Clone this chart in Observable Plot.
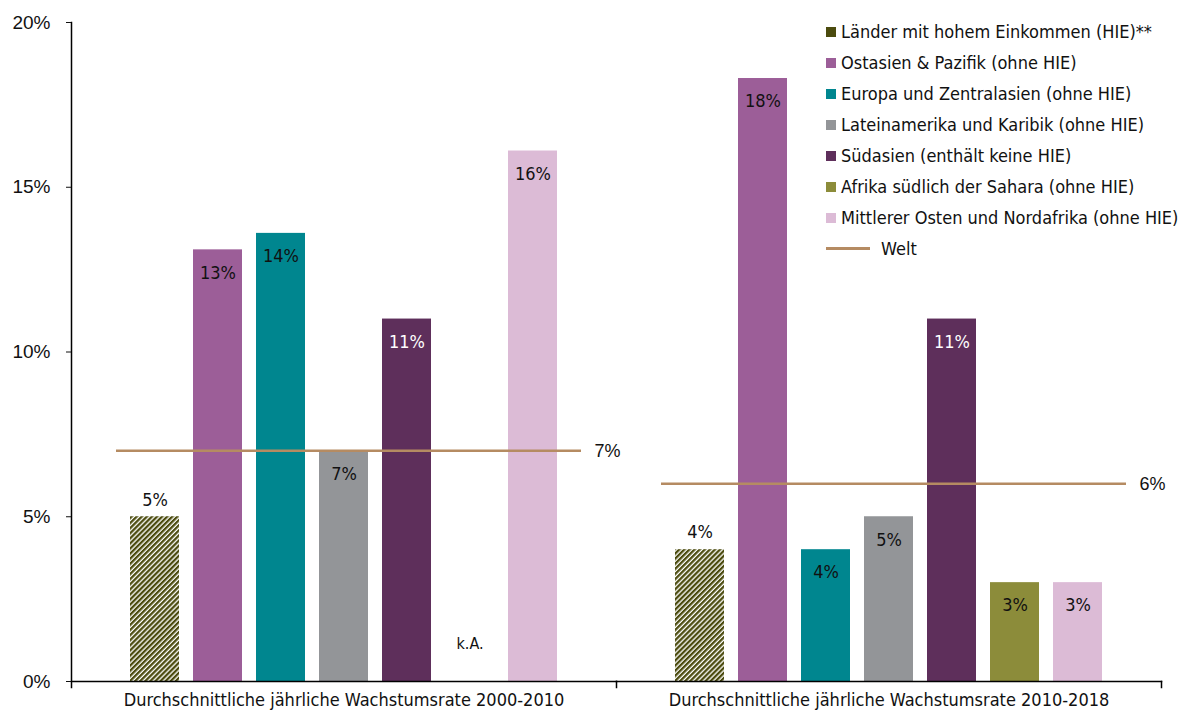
<!DOCTYPE html>
<html><head><meta charset="utf-8">
<script src="https://cdn.jsdelivr.net/npm/d3@7"></script>
<script src="https://cdn.jsdelivr.net/npm/@observablehq/plot@0.6"></script>
<style>
body{margin:0;background:#fff;}
#wrap{position:relative;width:1180px;height:717px;}
#legend{position:absolute;left:826px;top:16px;font-family:"Liberation Sans Narrow","DejaVu Sans Condensed",sans-serif;font-size:18px;color:#111;}
.row{display:flex;align-items:center;height:31px;white-space:nowrap;}
.sw{width:10px;height:10px;margin-right:5px;flex:none;}
.ln{width:44px;height:3px;margin-right:11px;flex:none;}
</style></head><body><div id="wrap"><div id="legend"></div></div>
<script>
const groups = ["Durchschnittliche jährliche Wachstumsrate 2000-2010", "Durchschnittliche jährliche Wachstumsrate 2010-2018"];
const regions = [
  "Länder mit hohem Einkommen (HIE)**",
  "Ostasien & Pazifik (ohne HIE)",
  "Europa und Zentralasien (ohne HIE)",
  "Lateinamerika und Karibik (ohne HIE)",
  "Südasien (enthält keine HIE)",
  "Afrika südlich der Sahara (ohne HIE)",
  "Mittlerer Osten und Nordafrika (ohne HIE)"
];
const legendColors = ["#4b4b0e", "#9c5e98", "#00868f", "#939598", "#5e2f5b", "#8c8c3a", "#dcbbd6"];
const barFills = ["url(#hatch)", "#9c5e98", "#00868f", "#939598", "#5e2f5b", "#8c8c3a", "#dcbbd6"];
const values2000 = [5.0, 13.1, 13.6, 7.0, 11.0, null, 16.1];
const values2010 = [4.0, 18.3, 4.0, 5.0, 11.0, 3.0, 3.0];
const welt = [7.0, 6.0];
const weltLabel = "Welt";
const weltColor = "#b58b62";
const yTicks = [0, 5, 10, 15, 20];
const missingLabel = "k.A.";

const narrow = '"Liberation Sans Narrow","DejaVu Sans Condensed",sans-serif';
const data = [];
groups.forEach((g, gi) => regions.forEach((r, ri) => data.push({group: g, region: r, value: (gi ? values2010 : values2000)[ri]})));
const weltData = groups.map((g, i) => ({group: g, value: welt[i]}));
const fmt = v => Math.round(v) + "%";
const present = data.filter(d => d.value != null);
const hie = regions[0], south = regions[4];

const plot = Plot.plot({
  width: 1180, height: 717,
  marginLeft: 71, marginRight: 19, marginTop: 22, marginBottom: 36,
  style: {fontFamily: narrow, fontSize: "18px", color: "#111", background: "#fff", overflow: "visible"},
  fx: {domain: groups, padding: 0, label: null},
  x: {domain: regions, paddingInner: 0.22, paddingOuter: 0.875, axis: null},
  y: {domain: [0, 20], axis: null},
  color: {domain: regions, range: barFills},
  marks: [
    Plot.barY(present, {fx: "group", x: "region", y: "value", fill: "region"}),
    Plot.ruleY(weltData, {fx: "group", y: "value", stroke: weltColor, strokeWidth: 2.5, insetLeft: 45, insetRight: 35}),
    Plot.text(weltData, {fx: "group", y: "value", text: d => fmt(d.value), frameAnchor: "right", textAnchor: "start", dx: -22, fontFamily: "Liberation Sans", fontSize: 18}),
    Plot.text(present.filter(d => d.region === hie), {fx: "group", x: "region", y: "value", text: d => fmt(d.value), dy: -17}),
    Plot.text(present.filter(d => d.region !== hie && d.region !== south), {fx: "group", x: "region", y: "value", text: d => fmt(d.value), dy: 23}),
    Plot.text(present.filter(d => d.region === south), {fx: "group", x: "region", y: "value", text: d => fmt(d.value), dy: 23, fill: "white"}),
    Plot.text(data.filter(d => d.value == null), {fx: "group", x: "region", y: () => 0, text: () => missingLabel, dy: -38, fontSize: 16}),
    Plot.frame({anchor: "bottom", stroke: "#000", strokeWidth: 1.5}),
    Plot.frame({anchor: "left", facetAnchor: "left", insetBottom: -6, stroke: "#000", strokeWidth: 1.5}),
    Plot.frame({anchor: "right", insetTop: 659, insetBottom: -6, stroke: "#000", strokeWidth: 1.5}),
    Plot.axisY({ticks: yTicks, tickFormat: d => d + "%", tickSize: 5, tickPadding: 16, fontFamily: "Liberation Sans", fontSize: 19, label: null}),
    Plot.axisFx({anchor: "bottom", tickSize: 0, tickPadding: 12, label: null})
  ]
});

d3.select(plot).insert("defs", ":first-child").html(
  '<pattern id="hatch" patternUnits="userSpaceOnUse" width="3.6" height="3.6" patternTransform="rotate(45)">' +
  '<rect width="3.6" height="3.6" fill="#ffffff"/><rect width="2.3" height="3.6" fill="' + legendColors[0] + '"/></pattern>'
);
document.getElementById("wrap").appendChild(plot);

const legend = d3.select("#legend");
regions.forEach((r, i) => {
  const row = legend.append("div").attr("class", "row");
  row.append("div").attr("class", "sw").style("background", legendColors[i]);
  row.append("span").text(r);
});
const wrow = legend.append("div").attr("class", "row");
wrow.append("div").attr("class", "ln").style("background", weltColor);
wrow.append("span").text(weltLabel);
</script>
</body></html>
